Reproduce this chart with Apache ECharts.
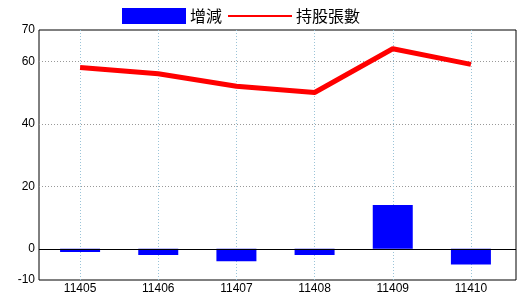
<!DOCTYPE html>
<html>
<head>
<meta charset="utf-8">
<script src="https://cdn.jsdelivr.net/npm/echarts@6/dist/echarts.min.js"></script>
<style>html,body{margin:0;padding:0;background:#fff;}#c{width:520px;height:300px;}</style>
</head>
<body>
<div id="c"></div>
<script>
const categories = ['11405', '11406', '11407', '11408', '11409', '11410'];
const changeValues = [-1, -2, -4, -2, 14, -5];
const holdingValues = [58, 56, 52, 50, 64, 59];
const yTickLabels = [-10, 0, 20, 40, 60, 70];
const yGridValues = [20, 40, 60];
const legendNames = ['增減', '持股張數'];

const chart = echarts.init(document.getElementById('c'), null, {renderer: 'canvas'});
const labelFont = '"Liberation Sans", Arial, sans-serif';
const cjkFont = '"Noto Sans CJK TC", "Noto Sans CJK SC", sans-serif';

const option = {
  animation: false,
  backgroundColor: '#fff',
  legend: {
    data: [
      {name: legendNames[0], icon: 'rect'},
      {name: legendNames[1], icon: 'path://M0,0 L64,0 L64,2 L0,2 Z'}
    ],
    left: 122,
    top: 8,
    padding: 0,
    itemWidth: 64,
    itemHeight: 16,
    itemGap: 6,
    symbolKeepAspect: true,
    textStyle: {fontSize: 16, color: '#000', fontFamily: cjkFont, padding: [0, 0, 0, -1]},
    lineStyle: {width: 2}
  },
  grid: [
    {left: 39, right: 4, top: 30, bottom: 20, show: true, borderColor: '#000', borderWidth: 1, backgroundColor: 'transparent'},
    {left: 41, right: 10, top: 30, bottom: 20}
  ],
  xAxis: [
    {gridIndex: 0, type: 'value', min: 0, max: 1, show: false},
    {
      gridIndex: 1, type: 'category', data: categories,
      axisLine: {show: false}, axisTick: {show: false}, splitLine: {show: false},
      axisLabel: {color: '#000', fontSize: 12, margin: 3, fontFamily: labelFont}
    }
  ],
  yAxis: [
    {
      gridIndex: 0, type: 'value', min: -10, max: 70, interval: 10,
      axisLine: {show: false}, axisTick: {show: false}, splitLine: {show: false},
      axisLabel: {customValues: yTickLabels, color: '#000', fontSize: 12, margin: 4, fontFamily: labelFont}
    },
    {gridIndex: 1, type: 'value', min: -10, max: 70, show: false}
  ],
  series: [
    {
      name: 'hgrid', type: 'line', xAxisIndex: 0, yAxisIndex: 0, data: [], z: 1,
      markLine: {
        silent: true, symbol: 'none', z: 1, label: {show: false},
        lineStyle: {type: [1, 2], color: '#999', width: 1},
        data: yGridValues.map(v => ({yAxis: v}))
      }
    },
    {
      name: 'vgrid', type: 'line', xAxisIndex: 1, yAxisIndex: 1, data: [], z: 1,
      markLine: {
        silent: true, symbol: 'none', z: 1, label: {show: false},
        lineStyle: {type: [1, 2], color: '#9bc4d8', width: 1},
        data: categories.map(c => ({xAxis: c}))
      }
    },
    {
      name: legendNames[0], type: 'bar', xAxisIndex: 1, yAxisIndex: 1,
      data: changeValues, barWidth: 40, z: 2,
      itemStyle: {color: '#0000ff'}
    },
    {
      name: 'zero', type: 'line', xAxisIndex: 0, yAxisIndex: 0, data: [], z: 3,
      markLine: {
        silent: true, symbol: 'none', z: 3, label: {show: false},
        lineStyle: {type: 'solid', color: '#000', width: 1},
        data: [{yAxis: 0}]
      }
    },
    {
      name: legendNames[1], type: 'line', xAxisIndex: 1, yAxisIndex: 1,
      data: holdingValues, symbol: 'none', z: 4,
      lineStyle: {color: '#ff0000', width: 5},
      itemStyle: {color: '#ff0000'}
    }
  ]
};
chart.setOption(option);
</script>
</body>
</html>
